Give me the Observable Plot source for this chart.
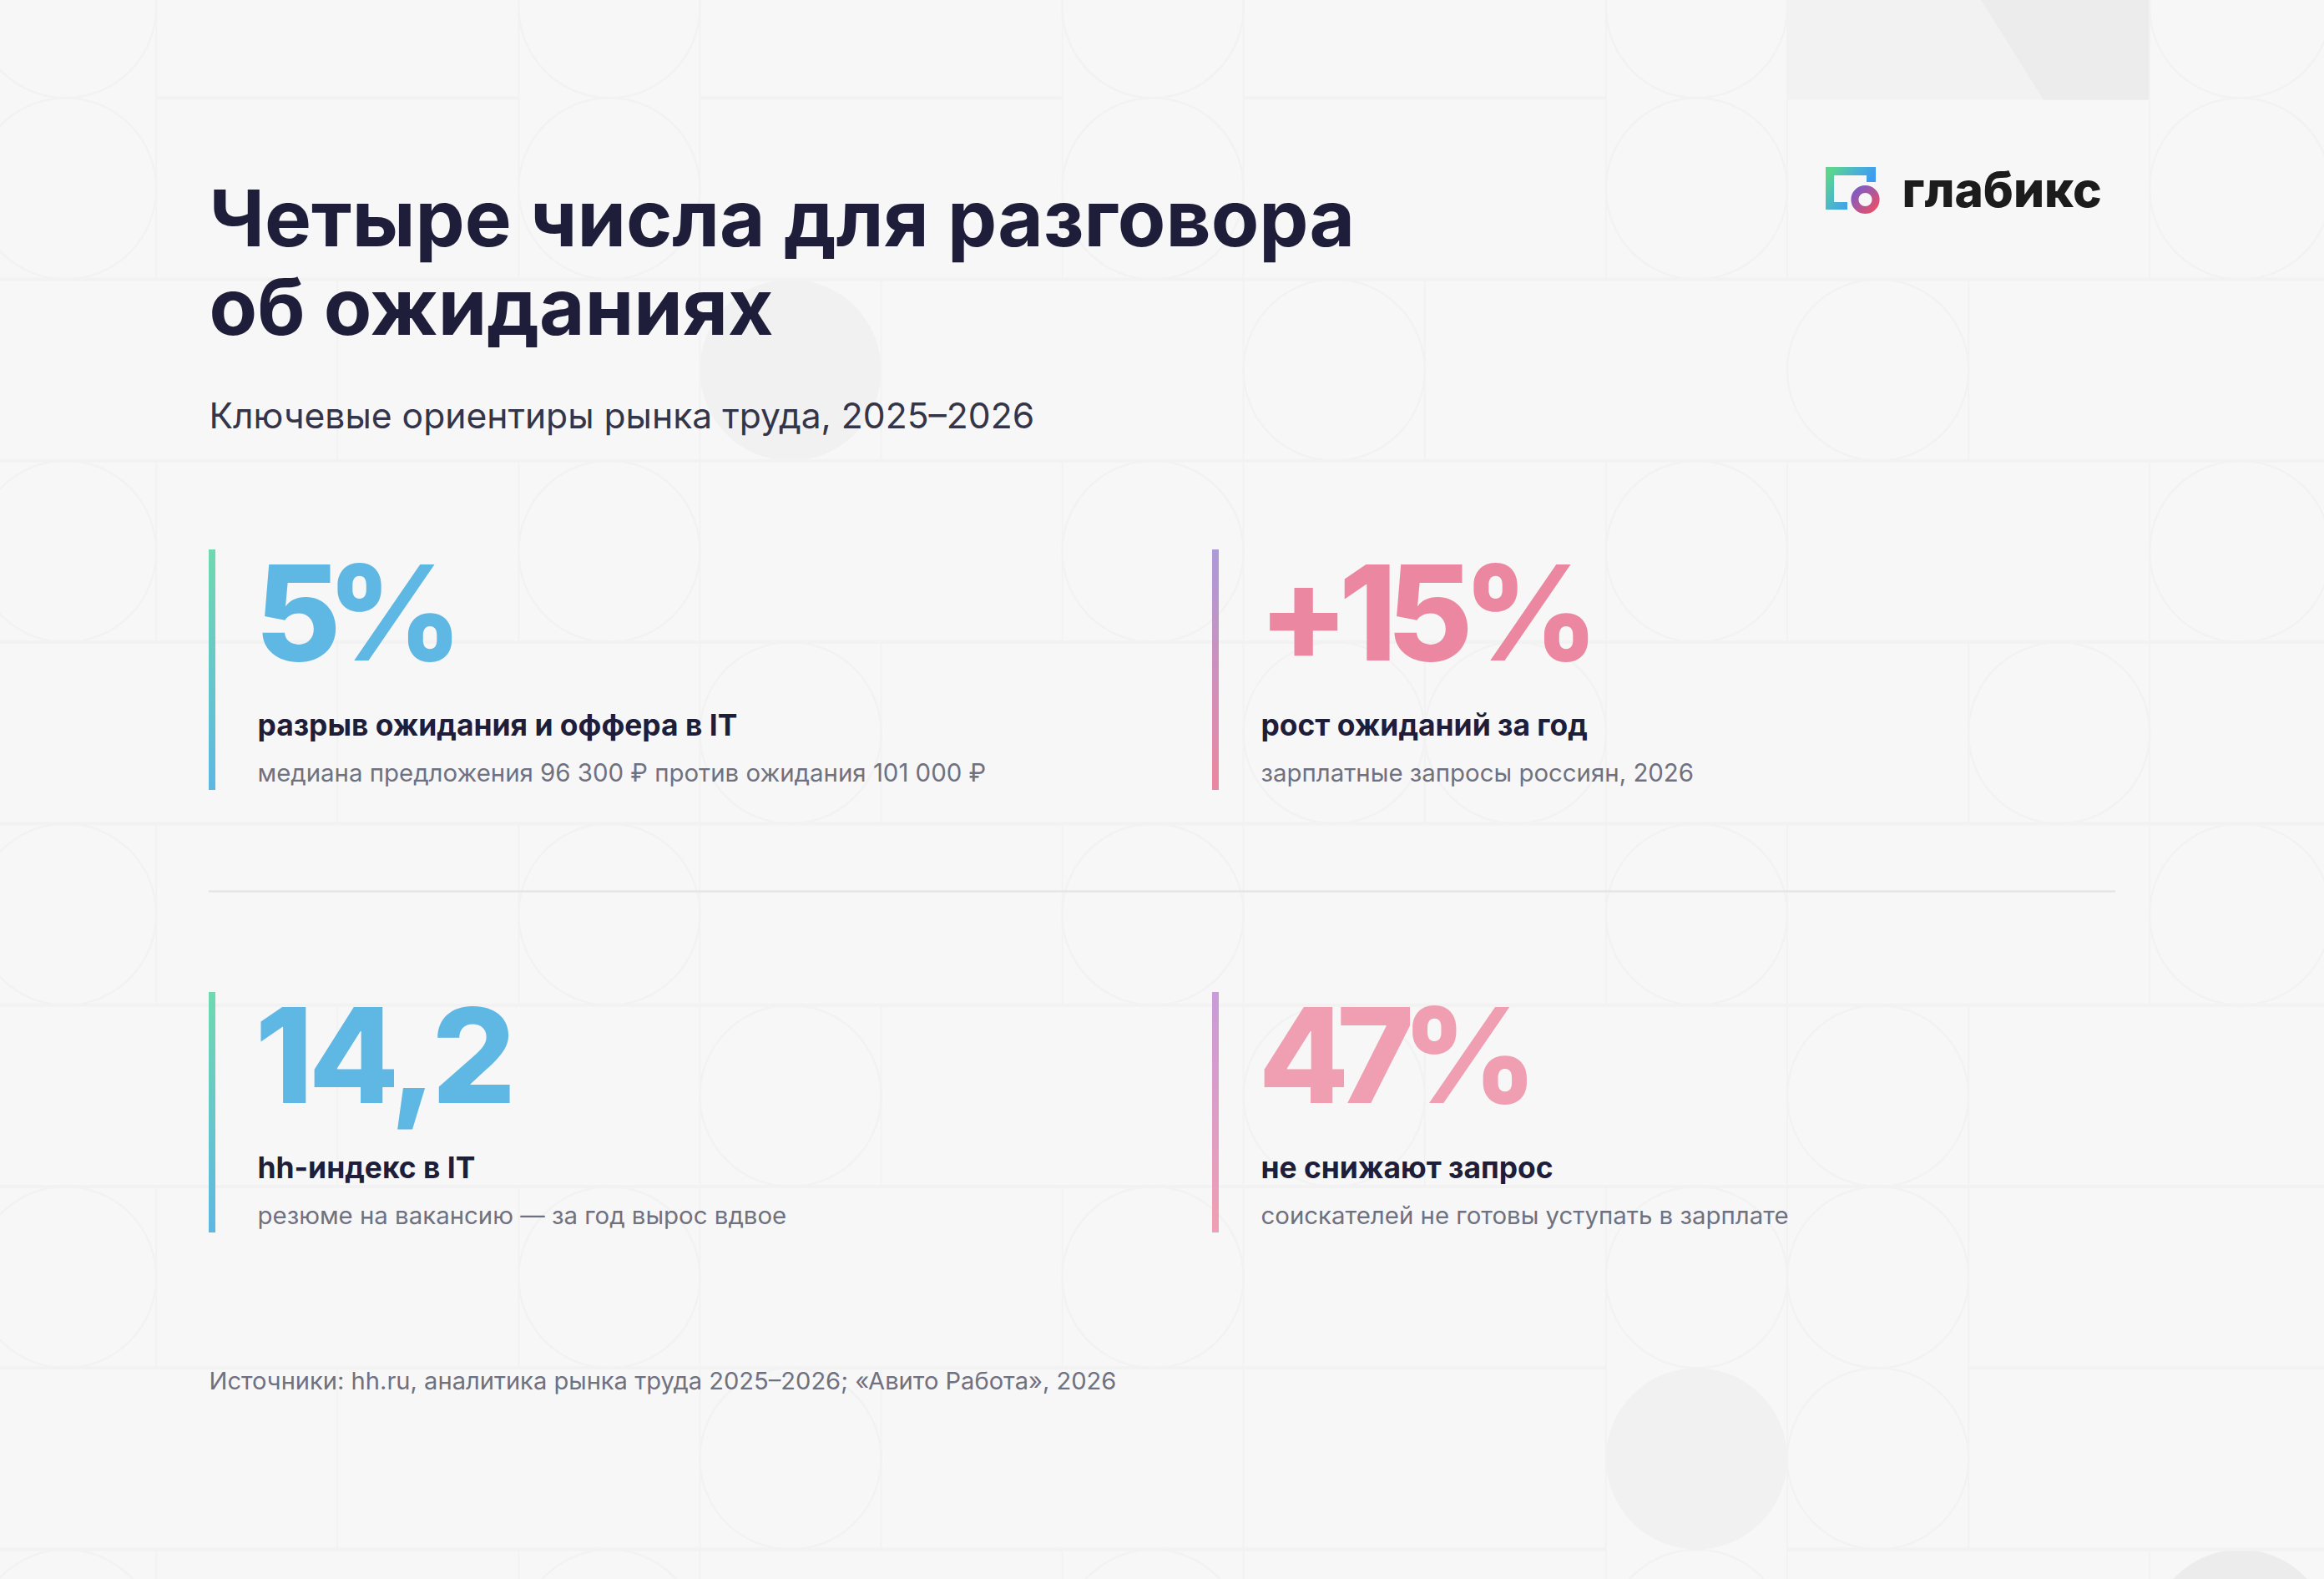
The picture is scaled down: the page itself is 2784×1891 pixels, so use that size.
<!DOCTYPE html>
<html lang="ru">
<head>
<meta charset="utf-8">
<title>Четыре числа для разговора об ожиданиях</title>
<script src="https://cdn.jsdelivr.net/npm/d3@7"></script>
<script src="https://cdn.jsdelivr.net/npm/@observablehq/plot@0.6"></script>
<style>
  html, body { margin: 0; padding: 0; background: #F7F7F7; overflow: hidden; }
  svg { display: block; }
  .bigvalue0 text { letter-spacing: -17px; }
  .bigvalue1 text { letter-spacing: -12px; }
  .bigvalue2 text { letter-spacing: -5.7px; }
  .bigvalue3 text { letter-spacing: -15px; }
</style>
</head>
<body>
<div id="chart"></div>
<script>
// ---- content ----
const titleLines = ["Четыре числа для разговора", "об ожиданиях"];
const subtitle = "Ключевые ориентиры рынка труда, 2025–2026";
const source = "Источники: hh.ru, аналитика рынка труда 2025–2026; «Авито Работа», 2026";
const brand = "глабикс";
const cardValues = ["5%", "+15%", "14,2", "47%"];
const cardLabels = ["разрыв ожидания и оффера в IT", "рост ожиданий за год", "hh-индекс в IT", "не снижают запрос"];
const cardNotes = [
  "медиана предложения 96 300 ₽ против ожидания 101 000 ₽",
  "зарплатные запросы россиян, 2026",
  "резюме на вакансию — за год вырос вдвое",
  "соискателей не готовы уступать в зарплате"
];
const cardColors = ["#5FB7E3", "#EB87A0", "#5FB7E3", "#F09FB2"];
const cardGradientTops = ["#6FD9AF", "#AD9AD9", "#6FD9AF", "#C99BD9"];

// ---- background pattern, in tile units ----
const ringCols = {A: [-1, 2, 5, 8, 11]};
const ringRows = {
  "-1": ringCols.A, 0: ringCols.A, 1: [6, 9], 2: ringCols.A, 3: [3, 6, 7, 10],
  4: ringCols.A, 5: [3, 6, 9], 6: [-1, 2, 5, 8, 9], 7: [3, 9], 8: [-1, 2, 5, 8]
};
const discs = [[3, 1, "#F1F1F1"], [8, 7, "#F1F1F1"], [11, 8, "#ECECEC"]];
const horizontalSegments = [
  [0, 0, 2], [0, 3, 5], [0, 6, 8], [1, -1, 12], [2, -1, 12], [3, -1, 12], [4, -1, 12], [5, -1, 12], [6, -1, 12],
  [7, -1, 8], [7, 10, 12], [8, -1, 8], [8, 9, 12]
];
const verticalSegments = {
  0: [-1, 0, 2, 4, 6, 8], 1: [1, 3, 5, 7], 2: [-1, 0, 2, 4, 6, 8], 3: [-1, 0, 1, 2, 3, 4, 5, 6, 7, 8],
  4: [1, 3, 5, 7], 5: [-1, 0, 2, 4, 6, 8], 6: [-1, 0, 1, 2, 3, 4, 5, 6, 7, 8], 7: [1, 3, 5],
  8: [-1, 0, 2, 3, 4, 6, 7, 8], 9: [-1, 0, 2, 4, 5, 6, 7, 8], 10: [1, 3, 5, 6, 7], 11: [-1, 0, 2, 3, 4, 8]
};

// ---- layout ----
const W = 2784, H = 1891;
const BG = "#F7F7F7", LINE = "#F2F2F2";
const X = i => 186.6 + 217.1 * i, Y = j => 116.7 + 217.3 * j;
const font = "Inter, 'Noto Sans', sans-serif";
const cards = cardValues.map((value, i) => ({
  value, label: cardLabels[i], note: cardNotes[i], color: cardColors[i], top: cardGradientTops[i],
  barX: i % 2 ? 1452 : 250, textX: i % 2 ? 1510 : 308, top0: i < 2 ? 658 : 1188, id: "bar" + i, cls: "bigvalue" + i
}));
const rings = Object.entries(ringRows).flatMap(([r, cs]) => cs.map(c => ({x: X(c) + 108.55, y: Y(+r) + 108.65})));
const hSegs = horizontalSegments.map(([r, a, b]) => ({y: Y(r), x1: X(a), x2: X(b)}));
const vSegs = Object.entries(verticalSegments).flatMap(([c, rs]) => rs.map(r => ({x: X(+c), y1: Y(r), y2: Y(r + 1)})));
const discData = discs.map(([c, r, f]) => ({x: X(c) + 108.55, y: Y(r) + 108.65, f}));

const defs = () => {
  const ns = "http://www.w3.org/2000/svg";
  const d = document.createElementNS(ns, "defs");
  const grad = (id, stops, attrs) => {
    const g = document.createElementNS(ns, "linearGradient");
    g.setAttribute("id", id);
    for (const k in attrs) g.setAttribute(k, attrs[k]);
    stops.forEach(([o, c]) => {
      const s = document.createElementNS(ns, "stop");
      s.setAttribute("offset", o); s.setAttribute("stop-color", c); g.appendChild(s);
    });
    d.appendChild(g);
  };
  cards.forEach(c => grad(c.id, [[0, c.top], [1, c.color]], {x1: 0, y1: 0, x2: 0, y2: 1}));
  grad("logoSq", [[0.1, "#5CD68C"], [0.5, "#48B0D8"], [0.75, "#3E9BF0"]],
       {gradientUnits: "userSpaceOnUse", x1: 2187, y1: 200, x2: 2247, y2: 240});
  grad("logoRing", [[0, "#7A5CC8"], [1, "#E8506A"]], {x1: 0, y1: 0, x2: 1, y2: 1});
  return d;
};

const txt = (data, xf, yf, size, weight, fill, extra = {}) =>
  Plot.text(data, {x: xf, y: yf, text: d => d.t ?? d, textAnchor: "start", lineAnchor: "bottom",
                   fontFamily: font, fontSize: size, fontWeight: weight, fill, ...extra});

const plot = Plot.plot({
  width: W, height: H, margin: 0,
  style: {background: "transparent", maxWidth: "none"},
  x: {axis: null, domain: [0, W], range: [0, W]},
  y: {axis: null, domain: [0, H], range: [0, H]},
  marks: [
    defs,
    // top-right decorative block
    Plot.rect([{}], {x1: () => 2141, x2: () => 2574, y1: () => 0, y2: () => 119.5, fill: "#F2F2F2"}),
    Plot.areaX([{y: 0, x1: 2373, x2: 2574}, {y: 119.5, x1: 2448, x2: 2574}], {y: "y", x1: "x1", x2: "x2", fill: "#ECECEC"}),
    // pattern
    Plot.dot(discData, {x: "x", y: "y", r: 108.6, fill: "f", stroke: "none"}),
    Plot.ruleY(hSegs, {y: "y", x1: "x1", x2: "x2", stroke: LINE, strokeWidth: 4}),
    Plot.ruleX(vSegs, {x: "x", y1: "y1", y2: "y2", stroke: LINE, strokeWidth: 2}),
    Plot.dot(rings, {x: "x", y: "y", r: 108.6, fill: "none", stroke: LINE, strokeWidth: 2.4}),
    // divider
    Plot.ruleY([1067], {x1: 250, x2: 2534, stroke: "#E6E6E6", strokeWidth: 2.6}),
    // cards
    Plot.rect(cards, {x1: "barX", x2: d => d.barX + 8, y1: "top0", y2: d => d.top0 + 288,
                      fill: d => `url(#${d.id})`}),
    ...cards.map(c => txt([c.value], () => c.textX - 3, () => c.top0 + 132, 158, 800, c.color, {className: c.cls})),
    ...cards.map(c => txt([c.label], () => c.textX, () => c.top0 + 222, 35.4, 700, "#1E1E3A")),
    ...cards.map(c => txt([c.note], () => c.textX, () => c.top0 + 277, 29.4, 400, "#6F7181")),
    // header and footer
    txt([titleLines[0]], () => 250, () => 294, 94, 700, "#1E1E3A"),
    txt([titleLines[1]], () => 250, () => 400, 94, 700, "#1E1E3A"),
    txt([subtitle], () => 250, () => 512, 42.6, 400, "#35354A"),
    txt([source], () => 250, () => 1663, 29.1, 400, "#6F7181"),
    // logo
    Plot.rect([{x1: 2187, x2: 2247, y1: 200, y2: 210}, {x1: 2187, x2: 2197, y1: 200, y2: 251},
               {x1: 2187, x2: 2213, y1: 242, y2: 251}, {x1: 2236, x2: 2247, y1: 200, y2: 218}],
              {x1: "x1", x2: "x2", y1: "y1", y2: "y2", fill: "url(#logoSq)"}),
    Plot.dot([{}], {x: () => 2234, y: () => 238.5, r: 20, fill: BG, stroke: "none"}),
    Plot.dot([{}], {x: () => 2234, y: () => 238.5, r: 12.6, fill: "none", stroke: "url(#logoRing)", strokeWidth: 9}),
    txt([brand], () => 2278, () => 247, 58.5, 800, "#1C1C1C")
  ]
});
document.getElementById("chart").appendChild(plot);
</script>
</body>
</html>
